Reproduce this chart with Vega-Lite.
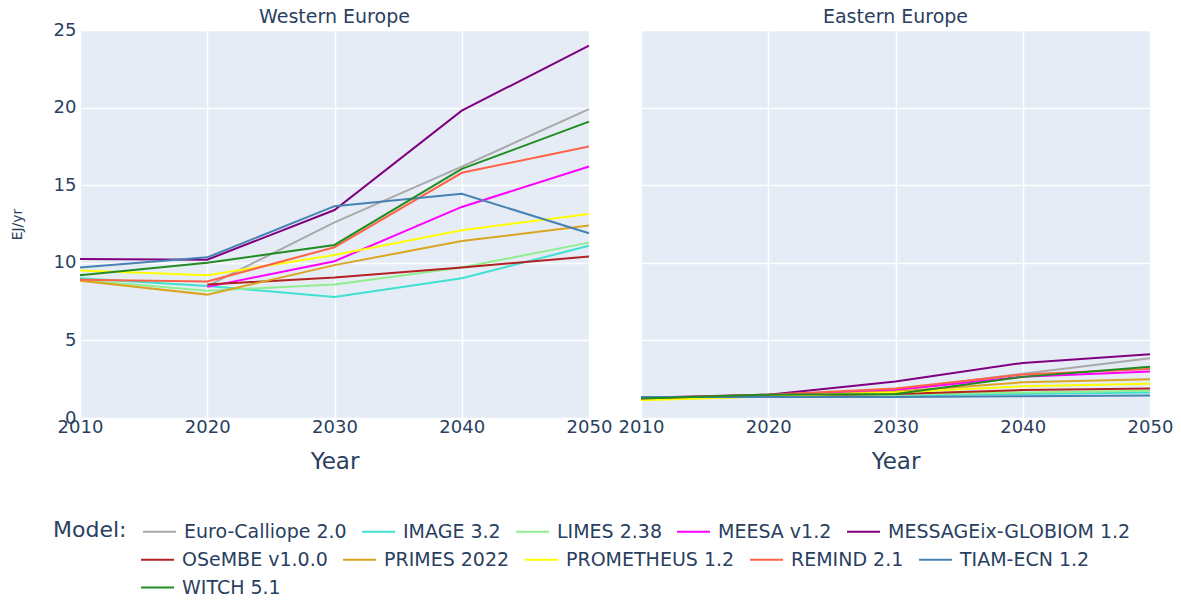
{
  "$schema": "https://vega.github.io/schema/vega-lite/v6.json",
  "padding": {"left": 10, "top": 8, "right": 5, "bottom": 0},
  "background": "white",
  "bounds": "flush",
  "datasets": {
    "d": [
      {"Region":"Western Europe","Model":"Euro-Calliope 2.0","Year":2020,"Value":8.5},
      {"Region":"Western Europe","Model":"Euro-Calliope 2.0","Year":2030,"Value":12.6},
      {"Region":"Western Europe","Model":"Euro-Calliope 2.0","Year":2040,"Value":16.2},
      {"Region":"Western Europe","Model":"Euro-Calliope 2.0","Year":2050,"Value":19.9},
      {"Region":"Western Europe","Model":"IMAGE 3.2","Year":2010,"Value":9.0},
      {"Region":"Western Europe","Model":"IMAGE 3.2","Year":2020,"Value":8.5},
      {"Region":"Western Europe","Model":"IMAGE 3.2","Year":2030,"Value":7.8},
      {"Region":"Western Europe","Model":"IMAGE 3.2","Year":2040,"Value":9.0},
      {"Region":"Western Europe","Model":"IMAGE 3.2","Year":2050,"Value":11.1},
      {"Region":"Western Europe","Model":"LIMES 2.38","Year":2010,"Value":8.9},
      {"Region":"Western Europe","Model":"LIMES 2.38","Year":2020,"Value":8.2},
      {"Region":"Western Europe","Model":"LIMES 2.38","Year":2030,"Value":8.6},
      {"Region":"Western Europe","Model":"LIMES 2.38","Year":2040,"Value":9.7},
      {"Region":"Western Europe","Model":"LIMES 2.38","Year":2050,"Value":11.3},
      {"Region":"Western Europe","Model":"MEESA v1.2","Year":2020,"Value":8.45},
      {"Region":"Western Europe","Model":"MEESA v1.2","Year":2030,"Value":10.1},
      {"Region":"Western Europe","Model":"MEESA v1.2","Year":2040,"Value":13.6},
      {"Region":"Western Europe","Model":"MEESA v1.2","Year":2050,"Value":16.2},
      {"Region":"Western Europe","Model":"MESSAGEix-GLOBIOM 1.2","Year":2010,"Value":10.25},
      {"Region":"Western Europe","Model":"MESSAGEix-GLOBIOM 1.2","Year":2020,"Value":10.2},
      {"Region":"Western Europe","Model":"MESSAGEix-GLOBIOM 1.2","Year":2030,"Value":13.4},
      {"Region":"Western Europe","Model":"MESSAGEix-GLOBIOM 1.2","Year":2040,"Value":19.8},
      {"Region":"Western Europe","Model":"MESSAGEix-GLOBIOM 1.2","Year":2050,"Value":24.0},
      {"Region":"Western Europe","Model":"OSeMBE v1.0.0","Year":2020,"Value":8.6},
      {"Region":"Western Europe","Model":"OSeMBE v1.0.0","Year":2030,"Value":9.05},
      {"Region":"Western Europe","Model":"OSeMBE v1.0.0","Year":2040,"Value":9.7},
      {"Region":"Western Europe","Model":"OSeMBE v1.0.0","Year":2050,"Value":10.4},
      {"Region":"Western Europe","Model":"PRIMES 2022","Year":2010,"Value":8.85},
      {"Region":"Western Europe","Model":"PRIMES 2022","Year":2020,"Value":7.95},
      {"Region":"Western Europe","Model":"PRIMES 2022","Year":2030,"Value":9.85},
      {"Region":"Western Europe","Model":"PRIMES 2022","Year":2040,"Value":11.4},
      {"Region":"Western Europe","Model":"PRIMES 2022","Year":2050,"Value":12.4},
      {"Region":"Western Europe","Model":"PROMETHEUS 1.2","Year":2010,"Value":9.5},
      {"Region":"Western Europe","Model":"PROMETHEUS 1.2","Year":2020,"Value":9.2},
      {"Region":"Western Europe","Model":"PROMETHEUS 1.2","Year":2030,"Value":10.5},
      {"Region":"Western Europe","Model":"PROMETHEUS 1.2","Year":2040,"Value":12.1},
      {"Region":"Western Europe","Model":"PROMETHEUS 1.2","Year":2050,"Value":13.15},
      {"Region":"Western Europe","Model":"REMIND 2.1","Year":2010,"Value":8.9},
      {"Region":"Western Europe","Model":"REMIND 2.1","Year":2020,"Value":8.8},
      {"Region":"Western Europe","Model":"REMIND 2.1","Year":2030,"Value":11.0},
      {"Region":"Western Europe","Model":"REMIND 2.1","Year":2040,"Value":15.8},
      {"Region":"Western Europe","Model":"REMIND 2.1","Year":2050,"Value":17.5},
      {"Region":"Western Europe","Model":"TIAM-ECN 1.2","Year":2010,"Value":9.7},
      {"Region":"Western Europe","Model":"TIAM-ECN 1.2","Year":2020,"Value":10.35},
      {"Region":"Western Europe","Model":"TIAM-ECN 1.2","Year":2030,"Value":13.65},
      {"Region":"Western Europe","Model":"TIAM-ECN 1.2","Year":2040,"Value":14.45},
      {"Region":"Western Europe","Model":"TIAM-ECN 1.2","Year":2050,"Value":11.9},
      {"Region":"Western Europe","Model":"WITCH 5.1","Year":2010,"Value":9.2},
      {"Region":"Western Europe","Model":"WITCH 5.1","Year":2020,"Value":10.0},
      {"Region":"Western Europe","Model":"WITCH 5.1","Year":2030,"Value":11.15},
      {"Region":"Western Europe","Model":"WITCH 5.1","Year":2040,"Value":16.05},
      {"Region":"Western Europe","Model":"WITCH 5.1","Year":2050,"Value":19.1},
      {"Region":"Eastern Europe","Model":"Euro-Calliope 2.0","Year":2020,"Value":1.5},
      {"Region":"Eastern Europe","Model":"Euro-Calliope 2.0","Year":2030,"Value":1.8},
      {"Region":"Eastern Europe","Model":"Euro-Calliope 2.0","Year":2040,"Value":2.85},
      {"Region":"Eastern Europe","Model":"Euro-Calliope 2.0","Year":2050,"Value":3.85},
      {"Region":"Eastern Europe","Model":"IMAGE 3.2","Year":2010,"Value":1.3},
      {"Region":"Eastern Europe","Model":"IMAGE 3.2","Year":2020,"Value":1.4},
      {"Region":"Eastern Europe","Model":"IMAGE 3.2","Year":2030,"Value":1.45},
      {"Region":"Eastern Europe","Model":"IMAGE 3.2","Year":2040,"Value":1.55},
      {"Region":"Eastern Europe","Model":"IMAGE 3.2","Year":2050,"Value":1.65},
      {"Region":"Eastern Europe","Model":"LIMES 2.38","Year":2010,"Value":1.25},
      {"Region":"Eastern Europe","Model":"LIMES 2.38","Year":2020,"Value":1.4},
      {"Region":"Eastern Europe","Model":"LIMES 2.38","Year":2030,"Value":1.5},
      {"Region":"Eastern Europe","Model":"LIMES 2.38","Year":2040,"Value":1.65},
      {"Region":"Eastern Europe","Model":"LIMES 2.38","Year":2050,"Value":1.75},
      {"Region":"Eastern Europe","Model":"MEESA v1.2","Year":2020,"Value":1.45},
      {"Region":"Eastern Europe","Model":"MEESA v1.2","Year":2030,"Value":1.8},
      {"Region":"Eastern Europe","Model":"MEESA v1.2","Year":2040,"Value":2.65},
      {"Region":"Eastern Europe","Model":"MEESA v1.2","Year":2050,"Value":3.0},
      {"Region":"Eastern Europe","Model":"MESSAGEix-GLOBIOM 1.2","Year":2010,"Value":1.3},
      {"Region":"Eastern Europe","Model":"MESSAGEix-GLOBIOM 1.2","Year":2020,"Value":1.5},
      {"Region":"Eastern Europe","Model":"MESSAGEix-GLOBIOM 1.2","Year":2030,"Value":2.35},
      {"Region":"Eastern Europe","Model":"MESSAGEix-GLOBIOM 1.2","Year":2040,"Value":3.55},
      {"Region":"Eastern Europe","Model":"MESSAGEix-GLOBIOM 1.2","Year":2050,"Value":4.1},
      {"Region":"Eastern Europe","Model":"OSeMBE v1.0.0","Year":2020,"Value":1.45},
      {"Region":"Eastern Europe","Model":"OSeMBE v1.0.0","Year":2030,"Value":1.55},
      {"Region":"Eastern Europe","Model":"OSeMBE v1.0.0","Year":2040,"Value":1.8},
      {"Region":"Eastern Europe","Model":"OSeMBE v1.0.0","Year":2050,"Value":1.9},
      {"Region":"Eastern Europe","Model":"PRIMES 2022","Year":2010,"Value":1.2},
      {"Region":"Eastern Europe","Model":"PRIMES 2022","Year":2020,"Value":1.4},
      {"Region":"Eastern Europe","Model":"PRIMES 2022","Year":2030,"Value":1.7},
      {"Region":"Eastern Europe","Model":"PRIMES 2022","Year":2040,"Value":2.3},
      {"Region":"Eastern Europe","Model":"PRIMES 2022","Year":2050,"Value":2.5},
      {"Region":"Eastern Europe","Model":"PROMETHEUS 1.2","Year":2010,"Value":1.15},
      {"Region":"Eastern Europe","Model":"PROMETHEUS 1.2","Year":2020,"Value":1.4},
      {"Region":"Eastern Europe","Model":"PROMETHEUS 1.2","Year":2030,"Value":1.65},
      {"Region":"Eastern Europe","Model":"PROMETHEUS 1.2","Year":2040,"Value":2.05},
      {"Region":"Eastern Europe","Model":"PROMETHEUS 1.2","Year":2050,"Value":2.2},
      {"Region":"Eastern Europe","Model":"REMIND 2.1","Year":2010,"Value":1.25},
      {"Region":"Eastern Europe","Model":"REMIND 2.1","Year":2020,"Value":1.5},
      {"Region":"Eastern Europe","Model":"REMIND 2.1","Year":2030,"Value":1.9},
      {"Region":"Eastern Europe","Model":"REMIND 2.1","Year":2040,"Value":2.8},
      {"Region":"Eastern Europe","Model":"REMIND 2.1","Year":2050,"Value":3.15},
      {"Region":"Eastern Europe","Model":"TIAM-ECN 1.2","Year":2010,"Value":1.35},
      {"Region":"Eastern Europe","Model":"TIAM-ECN 1.2","Year":2020,"Value":1.35},
      {"Region":"Eastern Europe","Model":"TIAM-ECN 1.2","Year":2030,"Value":1.35},
      {"Region":"Eastern Europe","Model":"TIAM-ECN 1.2","Year":2040,"Value":1.4},
      {"Region":"Eastern Europe","Model":"TIAM-ECN 1.2","Year":2050,"Value":1.45},
      {"Region":"Eastern Europe","Model":"WITCH 5.1","Year":2010,"Value":1.25},
      {"Region":"Eastern Europe","Model":"WITCH 5.1","Year":2020,"Value":1.5},
      {"Region":"Eastern Europe","Model":"WITCH 5.1","Year":2030,"Value":1.55},
      {"Region":"Eastern Europe","Model":"WITCH 5.1","Year":2040,"Value":2.65},
      {"Region":"Eastern Europe","Model":"WITCH 5.1","Year":2050,"Value":3.3}
    ]
  },
  "data": {"name": "d"},
  "facet": {
    "column": {
      "field": "Region",
      "type": "nominal",
      "sort": ["Western Europe", "Eastern Europe"],
      "header": {"title": null, "labelFontSize": 19, "labelColor": "#2a3f5f", "labelFont": "DejaVu Sans", "labelPadding": 3}
    }
  },
  "spacing": 52,
  "spec": {
    "width": 509,
    "height": 388,
    "encoding": {
      "x": {
        "field": "Year", "type": "quantitative",
        "scale": {"domain": [2010, 2050], "nice": false, "zero": false},
        "axis": {"values": [2010, 2020, 2030, 2040, 2050], "format": "d", "title": "Year", "labelOverlap": false, "labelBound": false, "labelFlush": false, "labelPadding": 0, "titlePadding": 14, "titleFontSize": 23}
      },
      "y": {
        "field": "Value", "type": "quantitative",
        "scale": {"domain": [0, 25], "nice": false},
        "axis": {"values": [0, 5, 10, 15, 20, 25], "title": "EJ/yr", "titleFontSize": 14, "titlePadding": 29, "labelPadding": 4}
      }
    },
    "layer": [
      {
        "transform": [{"filter": {"field": "Model", "oneOf": ["Euro-Calliope 2.0", "IMAGE 3.2", "LIMES 2.38", "MEESA v1.2", "MESSAGEix-GLOBIOM 1.2"]}}],
        "mark": {"type": "line", "strokeWidth": 2},
        "encoding": {
          "color": {
            "field": "Model", "type": "nominal",
            "scale": {
              "domain": ["Euro-Calliope 2.0", "IMAGE 3.2", "LIMES 2.38", "MEESA v1.2", "MESSAGEix-GLOBIOM 1.2"],
              "range": ["#a9a9a9", "#40e0d0", "#90ee90", "#ff00ff", "#800080"]
            },
            "legend": {
              "orient": "none", "legendX": -27, "legendY": 484,
              "direction": "horizontal", "columns": 5,
              "title": "Model:", "titleOrient": "left", "titleAnchor": "start", "titleBaseline": "line-top", "titleLineHeight": 33, "titleFontSize": 22, "titleFontWeight": "normal", "titleColor": "#2a3f5f", "titlePadding": 15,
              "labelFontSize": 19, "labelColor": "#2a3f5f", "labelFont": "DejaVu Sans", "titleFont": "DejaVu Sans",
              "symbolType": "stroke", "symbolSize": 1089, "symbolStrokeWidth": 2,
              "rowPadding": 0, "columnPadding": 11, "labelOffset": 7, "labelLimit": 400
            }
          }
        }
      },
      {
        "transform": [{"filter": {"field": "Model", "oneOf": ["OSeMBE v1.0.0", "PRIMES 2022", "PROMETHEUS 1.2", "REMIND 2.1", "TIAM-ECN 1.2", "WITCH 5.1"]}}],
        "mark": {"type": "line", "strokeWidth": 2},
        "encoding": {
          "stroke": {
            "field": "Model", "type": "nominal",
            "scale": {
              "domain": ["OSeMBE v1.0.0", "PRIMES 2022", "PROMETHEUS 1.2", "REMIND 2.1", "TIAM-ECN 1.2", "WITCH 5.1"],
              "range": ["#b22222", "#daa520", "#ffff00", "#ff6347", "#4682b4", "#228b22"]
            },
            "legend": {
              "orient": "none", "legendX": 60, "legendY": 512,
              "direction": "horizontal", "columns": 5,
              "title": null,
              "labelFontSize": 19, "labelColor": "#2a3f5f", "labelFont": "DejaVu Sans",
              "symbolType": "stroke", "symbolSize": 1089, "symbolStrokeWidth": 2,
              "rowPadding": 0, "columnPadding": 11, "labelOffset": 7, "labelLimit": 400
            }
          }
        }
      }
    ]
  },
  "config": {
    "font": "DejaVu Sans",
    "view": {"fill": "#E5ECF6", "stroke": null},
    "axis": {
      "grid": true, "gridColor": "#ffffff", "gridWidth": 1.5, "domain": false, "ticks": false,
      "labelFontSize": 18, "labelColor": "#2a3f5f", "titleColor": "#2a3f5f", "titleFontWeight": "normal", "labelFont": "DejaVu Sans", "titleFont": "DejaVu Sans"
    }
  }
}
